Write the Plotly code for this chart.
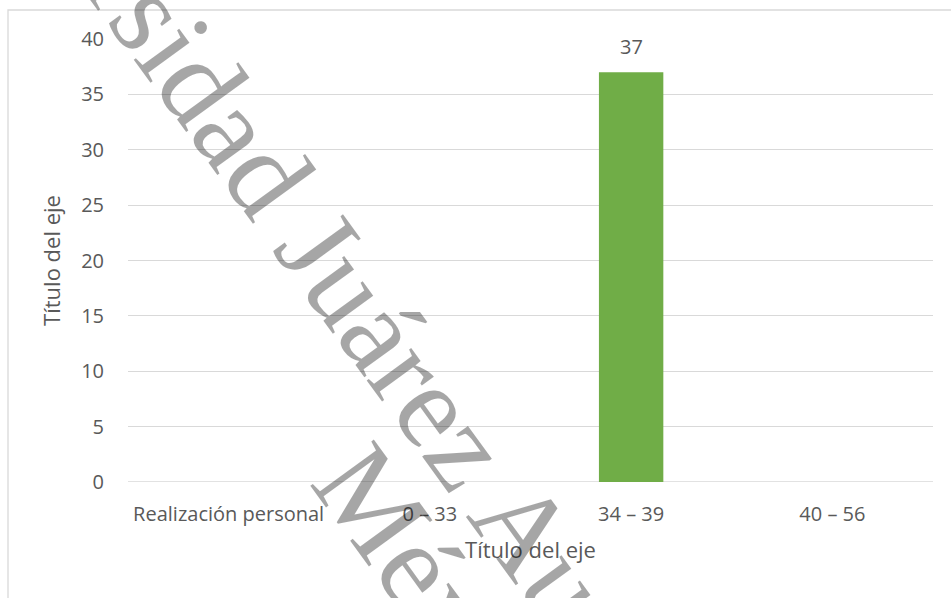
import plotly.graph_objects as go

categories = ["Realización personal", "0 – 33", "34 – 39", "40 – 56"]
values = [None, None, 37, None]
labels = ["", "", "37", ""]
y_ticks = [0, 5, 10, 15, 20, 25, 30, 35, 40]
watermark_line1 = "Universidad Juárez Autónoma de Tabasco"
watermark_line2 = "México"

W, H = 951, 598
L, R, T, B = 128, 933, 39, 482
font_main = "'Open Sans', Lato, sans-serif"
txt = "#595959"

fig = go.Figure()
fig.add_trace(go.Bar(
    x=categories, y=values, width=0.32,
    marker=dict(color="#70ad47", line=dict(width=0)),
    hoverinfo="skip",
))
for c, v, t in zip(categories, values, labels):
    if v is not None and t:
        fig.add_annotation(x=c, y=v, xref="x", yref="y", text=t, showarrow=False,
                           yanchor="middle", yshift=26,
                           font=dict(family=font_main, size=20, color=txt))

def px2paper(px, py):
    return (px - L) / (R - L), (B - py) / (B - T)

x0, y1 = px2paper(8, 10)
x1, y0 = px2paper(960, 610)
fig.add_shape(type="rect", xref="paper", yref="paper", x0=x0, y0=y0, x1=x1, y1=y1,
              line=dict(color="#d9d9d9", width=1.3), fillcolor="rgba(0,0,0,0)", layer="below")

wm_font = dict(family="'Liberation Serif', 'DejaVu Serif', serif", size=120, color="rgba(0,0,0,0.35)")
ax1, ay1 = px2paper(534, 541)
ax2, ay2 = px2paper(449, 607)
fig.add_annotation(x=ax1, y=ay1, xref="paper", yref="paper", text=watermark_line1,
                   showarrow=False, textangle=54, font=wm_font, xanchor="center", yanchor="middle")
fig.add_annotation(x=ax2, y=ay2, xref="paper", yref="paper", text=watermark_line2,
                   showarrow=False, textangle=54, font=wm_font, xanchor="center", yanchor="middle")

fig.update_layout(
    width=W, height=H,
    margin=dict(l=L, r=W - R, t=T, b=H - B, pad=0),
    paper_bgcolor="white", plot_bgcolor="white",
    showlegend=False,
    font=dict(family=font_main, color=txt, size=20),
    xaxis=dict(
        showgrid=False, showline=False, zeroline=False,
        ticks="outside", ticklen=14, tickcolor="rgba(0,0,0,0)",
        tickfont=dict(size=20, color=txt),
        title=dict(text="Título del eje", standoff=16, font=dict(size=22, color=txt)),
    ),
    yaxis=dict(
        range=[0, 40], tickvals=y_ticks,
        showgrid=True, gridcolor="#d9d9d9", gridwidth=1.3,
        zeroline=False, showline=False,
        ticks="outside", ticklen=19, tickcolor="rgba(0,0,0,0)",
        tickfont=dict(size=20, color=txt),
        title=dict(text="Título del eje", standoff=14, font=dict(size=22, color=txt)),
    ),
)
fig.add_shape(type="line", xref="paper", yref="y", x0=0, x1=1, y0=0, y1=0,
              line=dict(color="#d9d9d9", width=1.3), layer="below")

fig.write_html("out.html")
